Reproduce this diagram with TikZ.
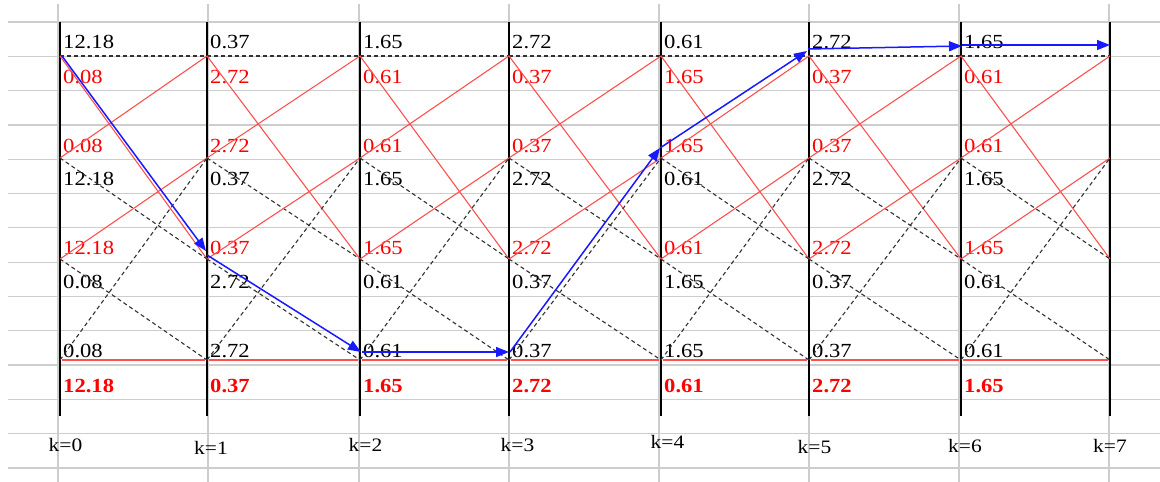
\documentclass[tikz,border=0pt]{standalone}
\usepackage{fontspec}
\setmainfont{Liberation Serif}
\newfontfamily\lab[FakeStretch=1.13]{Liberation Serif}
\usetikzlibrary{arrows.meta}
\definecolor{gridc}{RGB}{205,205,205}
\definecolor{redl}{RGB}{255,80,80}
\definecolor{redt}{RGB}{255,0,0}
\definecolor{bluel}{RGB}{25,25,255}
\definecolor{dashc}{RGB}{50,50,50}
\begin{document}
\begin{tikzpicture}[x=1pt,y=-1pt,
  gridline/.style={gridc,line width=1.2pt},
  stageline/.style={black,line width=1.5pt},
  rededge/.style={redl,line width=1.1pt},
  redflat/.style={redl,line width=2.2pt},
  dashedge/.style={dashc,line width=1.1pt,dash pattern=on 4pt off 3pt},
  pathedge/.style={bluel,line width=1.5pt,-{Triangle[length=13pt,width=10pt]}},
  blab/.style={anchor=base west,inner sep=0pt,font=\lab\fontsize{20}{21}\selectfont,text=black},
  rlab/.style={blab,text=redt},
  rblab/.style={rlab,font=\lab\bfseries\fontsize{20}{21}\selectfont},
  klab/.style={inner sep=0pt,font=\lab\fontsize{19}{20}\selectfont,text=black}]
\useasboundingbox (0,0) rectangle (1160,482);
\fill[white] (0,0) rectangle (1160,482);
% spreadsheet grid
\foreach \i in {0,...,13} \draw[gridline] (8,22+34.3*\i) -- (1160,22+34.3*\i);
\foreach \x in {58,208,359,509,659,809,959,1109} \draw[gridline] (\x,4) -- (\x,482);
% stage coordinates
\foreach \x [count=\c from 0] in {60,207,360,509,661,809,961,1110} {
  \coordinate (s\c-0) at (\x,56);
  \coordinate (s\c-1) at (\x,158);
  \coordinate (s\c-2) at (\x,259);
  \coordinate (s\c-3) at (\x,360);
  \coordinate (top\c) at (\x,22);
  \coordinate (bot\c) at (\x,416);
}
% labels
\foreach \k/\x/\a/\b in {0/60/12.18/0.08, 1/207/0.37/2.72, 2/360/1.65/0.61, 3/509/2.72/0.37, 4/661/0.61/1.65, 5/809/2.72/0.37, 6/961/1.65/0.61} {
  \node[blab]  (la\k) at (\x+3,48)  {\a};
  \node[rlab]  (lb\k) at (\x+3,83)  {\b};
  \node[rlab]  (lc\k) at (\x+3,152) {\b};
  \node[blab]  (ld\k) at (\x+3,185) {\a};
  \node[rlab]  (le\k) at (\x+3,254) {\a};
  \node[blab]  (lf\k) at (\x+3,288) {\b};
  \node[blab]  (lg\k) at (\x+3,357) {\b};
  \node[rblab] (lh\k) at (\x+3,392) {\a};
}
% stage lines
\foreach \c in {0,...,7} \draw[stageline] (top\c) -- (bot\c);
% transitions
\foreach \k in {0,...,6} {
  \pgfmathtruncatemacro{\n}{\k+1}
  \draw[dashedge] (s\k-0) -- (s\n-0);
  \draw[rededge]  (s\k-0) -- (s\n-2);
  \draw[rededge]  (s\k-1) -- (s\n-0);
  \draw[dashedge] (s\k-1) -- (s\n-2);
  \draw[rededge]  (s\k-2) -- (s\n-1);
  \draw[dashedge] (s\k-2) -- (s\n-3);
  \draw[dashedge] (s\k-3) -- (s\n-1);
  \draw[redflat]  ([xshift=2pt]s\k-3) -- ([xshift=-2pt]s\n-3);
}
% survivor path
\coordinate (b0) at (62,56);
\coordinate (b1) at (206,251);
\coordinate (b1s) at (207,255);
\coordinate (b2) at (361,352);
\coordinate (b2s) at (362,352);
\coordinate (b3) at (509,352);
\coordinate (b3s) at (510,352);
\coordinate (b4) at (660,148);
\coordinate (b5) at (807,51);
\coordinate (b5s) at (808,49);
\coordinate (b6) at (962,46);
\coordinate (b6s) at (962,45);
\coordinate (b7) at (1110,45);
\draw[pathedge] (b0) -- (b1);
\draw[pathedge] (b1s) -- (b2);
\draw[pathedge] (b2s) -- (b3);
\draw[pathedge] (b3s) -- (b4);
\draw[pathedge] (b4) -- (b5);
\draw[pathedge] (b5s) -- (b6);
\draw[pathedge] (b6s) -- (b7);
% stage names
\foreach \k/\x/\y in {0/65.5/445, 1/211/448, 2/365.5/445, 3/517.5/445, 4/667.5/442, 5/814.5/447, 6/965/446, 7/1110/446}
  \node[klab] (k\k) at (\x,\y) {k=\k};
\end{tikzpicture}
\end{document}
